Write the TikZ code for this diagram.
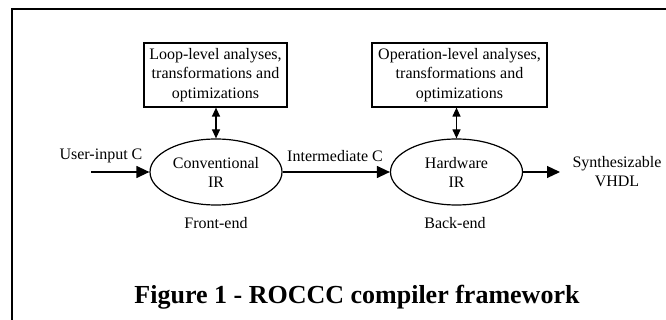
\documentclass[tikz,border=0pt]{standalone}
\usepackage{fontspec}
\setmainfont{Liberation Serif}
\usetikzlibrary{shapes.geometric,arrows.meta}

\begin{document}
\begin{tikzpicture}[x=1pt,y=-1pt,
	box/.style={draw,line width=1.2pt,inner sep=0pt,align=center,minimum height=64pt,font=\fontsize{16}{19.5}\selectfont},
	stage/.style={draw,ellipse,line width=1.2pt,inner sep=0pt,minimum width=132pt,minimum height=66pt,align=center,font=\fontsize{16}{19}\selectfont},
	lbl/.style={align=center,font=\fontsize{16}{19.5}\selectfont},
	flow/.style={line width=1.2pt,-{Triangle[length=13pt,width=12pt]}},
	both/.style={line width=1.2pt,{Triangle[length=9pt,width=8pt]}-{Triangle[length=9pt,width=8pt]}}]

	\useasboundingbox (0,0) rectangle (666,320);

	% frame
	\draw [line width=2.5pt] (12,320) -- (12,8.8) -- (666,8.8);

	% analyses boxes
	\node [box,minimum width=143pt] (loop) at (215.5,75) {Loop-level analyses,\\transformations and\\optimizations};
	\node [box,minimum width=175pt] (oper) at (459.5,75) {Operation-level analyses,\\transformations and\\optimizations};

	% IR stages
	\node [stage] (conv) at (216,172) {Conventional\\IR};
	\node [stage] (hw) at (456.5,172) {Hardware\\IR};

	% free ends
	\coordinate (src) at (91,172);
	\coordinate (dst) at (560,172);

	% connectors
	\draw [flow] (src) -- (conv.west);
	\draw [flow] (conv.east) -- (hw.west);
	\draw [flow] (hw.east) -- (dst);
	\draw [both] (conv.north |- loop.south) -- (conv.north);
	\draw [both] (hw.north |- oper.south) -- (hw.north);

	% labels
	\node [lbl] (userc) at (101,156) {User-input C};
	\node [lbl] (interc) at (335,156) {Intermediate C};
	\node [lbl] (vhdl) at (617,171.5) {Synthesizable\\VHDL};
	\node [lbl] (front) at (216,223) {Front-end};
	\node [lbl] (back) at (455,223) {Back-end};

	% caption
	\node [font=\fontsize{26}{30}\selectfont\bfseries] (cap) at (357,297) {Figure 1 - ROCCC compiler framework};

\end{tikzpicture}
\end{document}
